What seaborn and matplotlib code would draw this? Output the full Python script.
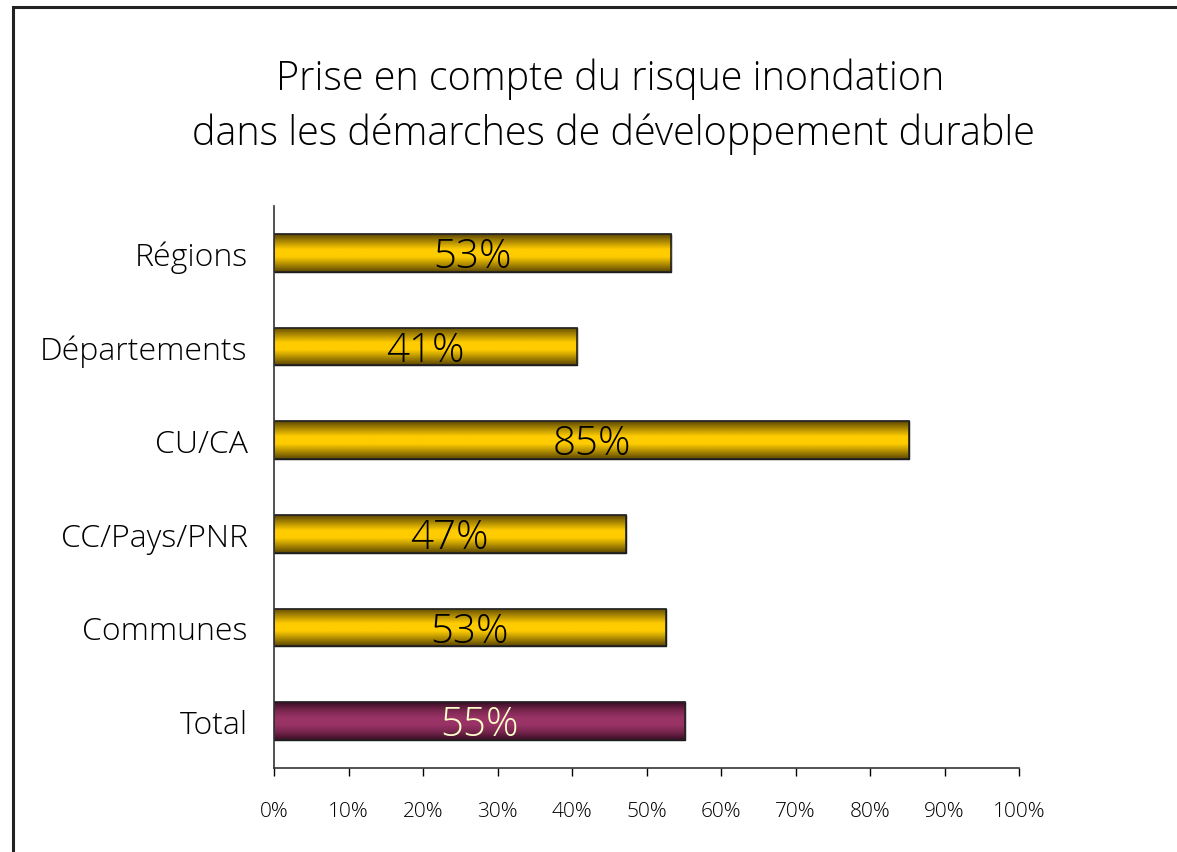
"""
plot.py

Prise en compte du risque inondation - horizontal bar chart with shaded bars
"""

import numpy as np
import seaborn as sns
import pandas as pd
from matplotlib import pyplot as plt
from matplotlib.patches import Rectangle
from matplotlib.colors import LinearSegmentedColormap

#------------------------------------------------------------------------------
# Data
#------------------------------------------------------------------------------
categories = ['Régions', 'Départements', 'CU/CA', 'CC/Pays/PNR', 'Communes', 'Total']
values = [53.3, 40.7, 85.2, 47.2, 52.6, 55.2]
labels = ['53%', '41%', '85%', '47%', '53%', '55%']
x_ticks = [0, 10, 20, 30, 40, 50, 60, 70, 80, 90, 100]

df = pd.DataFrame({'cat': categories, 'val': values})

sns.set_theme(style='white')
plt.rcParams['font.family'] = ['Open Sans', 'DejaVu Sans']
plt.rcParams['text.color'] = 'black'
plt.rcParams['xtick.color'] = 'black'
plt.rcParams['ytick.color'] = 'black'

#------------------------------------------------------------------------------
# Plot figure
#------------------------------------------------------------------------------
fig = plt.figure(figsize=(11.77, 8.53), dpi=100)
ax = fig.add_axes([0.2328, 0.0985, 0.6330, 0.6588])

sns.barplot(data=df, x='val', y='cat', orient='h', width=0.4,
            color='#ffcc00', edgecolor='black', linewidth=1, ax=ax)

# cylinder-like shading on each bar
yellow = LinearSegmentedColormap.from_list('y', ['#5e4800', '#b08c00', '#ffcc00', '#ffcc00', '#b08c00', '#5e4800'])
purple = LinearSegmentedColormap.from_list('p', ['#3a0e25', '#75254c', '#993366', '#993366', '#75254c', '#3a0e25'])
grad = np.linspace(0, 1, 64).reshape(-1, 1)
for i, p in enumerate(ax.patches):
    x0, y0 = p.get_x(), p.get_y()
    w, h = p.get_width(), p.get_height()
    cmap = purple if categories[i] == 'Total' else yellow
    im = ax.imshow(grad, cmap=cmap, aspect='auto', extent=[x0, x0 + w, y0 + h, y0],
                   zorder=p.get_zorder() + 0.1, interpolation='bilinear')
    im.set_clip_path(p)
    ax.add_patch(Rectangle((x0, y0), w, h, fill=False, edgecolor='#222222',
                           linewidth=1.2, zorder=p.get_zorder() + 0.2))
    col = '#ffffcc' if categories[i] == 'Total' else 'black'
    ax.text(values[i] / 2, i + 0.04, labels[i], ha='center', va='center',
            fontsize=29, fontweight='light', color=col, zorder=5)

ax.set_xlim(0, 100)
ax.set_ylim(5.5, -0.5)
ax.set_xticks(x_ticks)
ax.set_xticklabels([f'{t}%' for t in x_ticks], fontsize=15, fontweight='light')
ax.tick_params(axis='x', direction='out', length=6, width=1, color='black', pad=18)
ax.tick_params(axis='y', length=0, pad=19, labelsize=23)
for t in ax.get_yticklabels():
    t.set_fontweight('light')
ax.xaxis.set_ticks_position('bottom')
ax.set_xlabel('')
ax.set_ylabel('')

for s in ['top', 'right']:
    ax.spines[s].set_visible(False)
for s in ['left', 'bottom']:
    ax.spines[s].set_color('#333333')
    ax.spines[s].set_linewidth(1.2)

fig.text(0.518, 0.907, 'Prise en compte du risque inondation', ha='center', va='center',
         fontsize=28.5, fontweight='light')
fig.text(0.521, 0.843, 'dans les démarches de développement durable', ha='center',
         va='center', fontsize=28.5, fontweight='light')

# outer frame (cut off at right and bottom)
fig.patches.append(Rectangle((13 / 1177, -0.1), 1.2, 0.1 + (1 - 8 / 853),
                             transform=fig.transFigure, fill=False,
                             edgecolor='#222222', linewidth=2.2))

#------------------------------------------------------------------------------
# Save figure
#------------------------------------------------------------------------------
plt.savefig('out.png', dpi=100)
